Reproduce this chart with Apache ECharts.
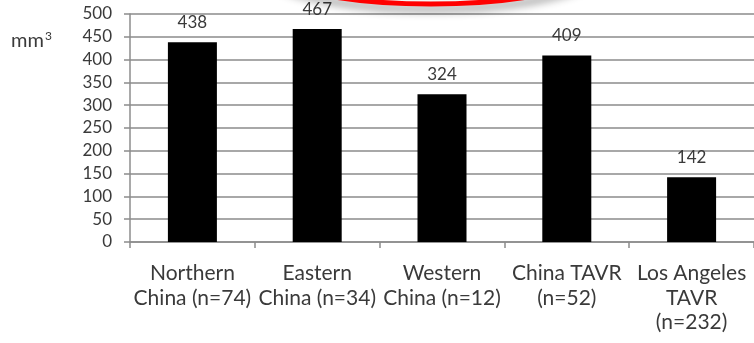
<!DOCTYPE html>
<html>
<head>
<meta charset="utf-8">
<script src="https://cdn.jsdelivr.net/npm/echarts@6/dist/echarts.min.js"></script>
<style>
  html, body { margin: 0; padding: 0; background: #fff; }
  #chart { width: 754px; height: 343px; }
</style>
</head>
<body>
<div id="chart"></div>
<script>
// Annulus volume by cohort
const categories = [
  'Northern\nChina (n=74)',
  'Eastern\nChina (n=34)',
  'Western\nChina (n=12)',
  'China TAVR\n(n=52)',
  'Los Angeles\nTAVR\n(n=232)'
];
const volumes = [438, 467, 324, 409, 142];
const yTicks = { min: 0, max: 500, step: 50 };
const unitBase = 'mm';
const unitPower = '3';

const font = 'Lato, "Open Sans", "Liberation Sans", sans-serif';
const textColor = '#3a3a3a';

const chart = echarts.init(document.getElementById('chart'), null, { renderer: 'canvas' });
chart.setOption({
  animation: false,
  backgroundColor: '#ffffff',
  grid: { left: 130, top: 14, width: 630, height: 228, containLabel: false },
  xAxis: {
    type: 'category',
    data: categories,
    axisLine: { show: true, lineStyle: { color: '#8c8c8c', width: 1.5 } },
    axisTick: { show: true, alignWithLabel: false, length: 6, lineStyle: { color: '#8c8c8c', width: 1.5 } },
    axisLabel: {
      interval: 0,
      margin: 19,
      color: textColor,
      fontFamily: font,
      fontSize: 21,
      lineHeight: 24.5
    }
  },
  yAxis: {
    type: 'value',
    min: yTicks.min,
    max: yTicks.max,
    interval: yTicks.step,
    axisLine: { show: true, lineStyle: { color: '#8c8c8c', width: 1.5 } },
    axisTick: { show: true, length: 6, lineStyle: { color: '#8c8c8c', width: 1.5 } },
    axisLabel: { margin: 18, color: textColor, fontFamily: font, fontSize: 17 },
    splitLine: { show: true, lineStyle: { color: '#a8a8a8', width: 2 } }
  },
  series: [{
    type: 'bar',
    data: volumes,
    barWidth: 49,
    itemStyle: { color: '#000000' },
    label: {
      show: true,
      position: 'top',
      distance: 11,
      color: textColor,
      fontFamily: font,
      fontSize: 17
    }
  }],
  graphic: [
    {
      type: 'text',
      left: 11,
      top: 30,
      style: {
        text: '{b|' + unitBase + '}{p|' + unitPower + '}',
        rich: {
          b: { fill: textColor, fontFamily: font, fontSize: 20, lineHeight: 26 },
          p: { fill: textColor, fontFamily: font, fontSize: 12, lineHeight: 26, padding: [0, 0, 10, 1] }
        }
      }
    },
    {
      type: 'ellipse',
      z: 100,
      shape: { cx: 431, cy: -36, rx: 170, ry: 40 },
      style: {
        fill: 'none',
        stroke: '#ff0000',
        lineWidth: 5,
        shadowBlur: 8,
        shadowColor: 'rgba(0,0,0,0.45)',
        shadowOffsetY: 5
      }
    }
  ]
});
</script>
</body>
</html>
